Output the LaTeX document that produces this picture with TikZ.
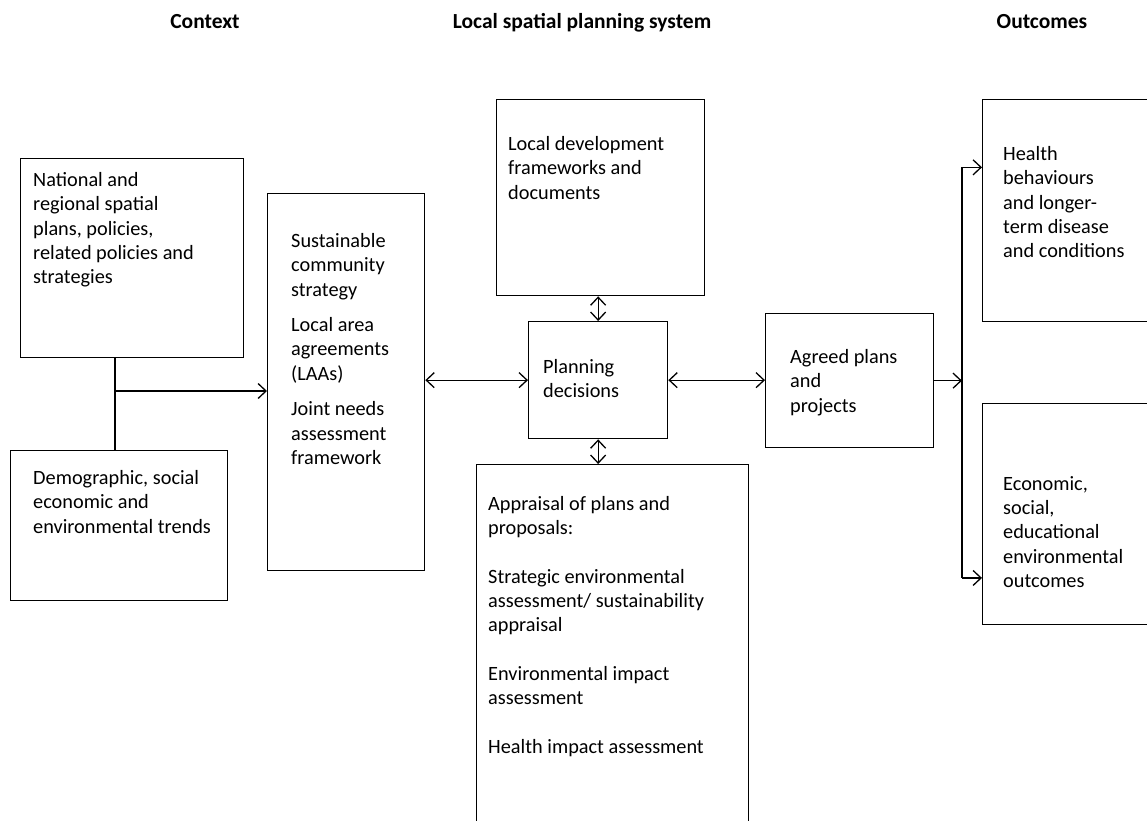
\documentclass[tikz,border=0pt]{standalone}
\usepackage{fontspec}
\setmainfont{Carlito}
\usetikzlibrary{arrows.meta,positioning,calc}
\newcommand\diagfont{\fontsize{20.3}{24.4}\selectfont}
\newcommand\hdrfont{\fontsize{21.5}{26}\selectfont\bfseries}

\begin{document}
\begin{tikzpicture}[
    x=1pt, y=-1pt,
    box/.style={draw, line width=1.3pt, anchor=north west, inner sep=0pt},
    txt/.style={align=left, inner sep=0pt, font=\diagfont},
    head/.style={inner sep=0pt, anchor=base, font=\hdrfont},
    arrow/.style={-{Straight Barb[length=8pt,width=15pt]}, line width=1.3pt},
    twoway/.style={{Straight Barb[length=8pt,width=15pt]}-{Straight Barb[length=8pt,width=15pt]},
                line width=1.3pt}
]
\path[use as bounding box] (0,0) rectangle (1147,820);
\clip (0,0) rectangle (1147,820);

% column headings
\node[head] (hctx) at (205,28) {Context};
\node[head] (hlsp) at (582,28) {Local spatial planning system};
\node[head] (hout) at (1042,28) {Outcomes};

% context
\node[box, minimum width=223pt, minimum height=199pt] (natl) at (20,158) {};
\node[txt, below right=14pt and 13pt of natl.north west] (natltxt)
    {National and\\regional spatial\\plans, policies,\\related policies and\\strategies};
\node[box, minimum width=217pt, minimum height=150pt] (demo) at (10,450) {};
\node[txt, below right=20pt and 23pt of demo.north west] (demotxt)
    {Demographic, social\\economic and\\environmental trends};

% planning system
\node[box, minimum width=157pt, minimum height=377pt] (sust) at (267,193) {};
\node[txt, below right=40pt and 24pt of sust.north west] (susttxt)
    {Sustainable\\community\\strategy\\[11pt]Local area\\agreements\\(LAAs)\\[11pt]Joint needs\\assessment\\framework};
\node[box, minimum width=208pt, minimum height=196pt] (ldf) at (496,99) {};
\node[txt, below right=37pt and 12pt of ldf.north west] (ldftxt)
    {Local development\\frameworks and\\documents};
\node[box, minimum width=139pt, minimum height=117pt] (plan) at (528,321) {};
\node[txt, below right=38pt and 15pt of plan.north west] (plantxt)
    {Planning\\decisions};
\node[box, minimum width=272pt, minimum height=400pt] (appr) at (476,464) {};
\node[txt, below right=32pt and 12pt of appr.north west] (apprtxt)
    {Appraisal of plans and\\proposals:\\[24pt]Strategic environmental\\assessment/ sustainability\\appraisal\\[24pt]Environmental impact\\assessment\\[24pt]Health impact assessment};
\node[box, minimum width=168pt, minimum height=134pt] (agreed) at (765,313) {};
\node[txt, below right=36pt and 25pt of agreed.north west] (agreedtxt)
    {Agreed plans\\and\\projects};

% outcomes
\node[box, minimum width=200pt, minimum height=222pt] (hlth) at (982,99) {};
\node[txt, below right=47pt and 21pt of hlth.north west] (hlthtxt)
    {Health\\behaviours\\and longer-\\term disease\\and conditions};
\node[box, minimum width=200pt, minimum height=221pt] (econ) at (982,403) {};
\node[txt, below right=73pt and 21pt of econ.north west] (econtxt)
    {Economic,\\social,\\educational\\environmental\\outcomes};

% connectors
\coordinate (ctxjoin) at (115,391);
\coordinate (fork) at (962,380);
\coordinate (inhlth) at ($(hlth.north west)!0.306!(hlth.south west)$);
\coordinate (inecon) at ($(econ.north west)!0.787!(econ.south west)$);

\draw[line width=1.3pt] (natl.south -| ctxjoin) -- (demo.north -| ctxjoin);
\draw[arrow] (ctxjoin) -- (ctxjoin -| sust.west);
\draw[twoway] (plan.west -| sust.east) -- (plan.west);
\draw[twoway] (ldf.south -| plan.north) -- (plan.north);
\draw[twoway] (plan.south) -- (plan.south |- appr.north);
\draw[twoway] (plan.east) -- (plan.east -| agreed.west);
\draw[arrow] (agreed.east) -- (agreed.east -| fork);
\draw[arrow] (inecon -| fork) -- (inhlth -| fork) -- (inhlth);
\draw[arrow] (inecon -| fork) -- (inecon);

\end{tikzpicture}
\end{document}
